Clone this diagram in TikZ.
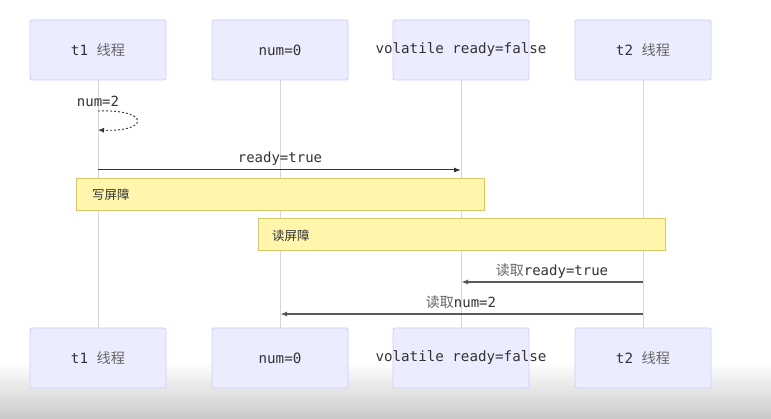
\documentclass[tikz,border=0pt]{standalone}
\usepackage{fontspec}
\setmainfont{DejaVu Sans Mono}
\newfontfamily\cjk{Noto Sans CJK SC}
\usetikzlibrary{arrows.meta}
\definecolor{actfill}{HTML}{ECECFF}
\definecolor{actdraw}{HTML}{CCCCFF}
\definecolor{notefill}{HTML}{FFF5AD}
\definecolor{notedraw}{HTML}{D4C76A}
\definecolor{lifeline}{HTML}{D6D6D6}
\definecolor{txt}{HTML}{333333}
\definecolor{cjkc}{HTML}{666666}
\newcommand{\cbox}[1]{\makebox[0pt][c]{#1}}
\tikzset{
  actor/.style={draw=actdraw, fill=actfill, rounded corners=2pt, minimum width=136pt, minimum height=60pt, inner sep=0pt, text=txt, font=\fontsize{14.2}{16}\selectfont, line width=0.8pt},
  life/.style={draw=lifeline, line width=1pt},
  msg/.style={draw=txt, line width=1pt, -{Latex[length=7pt,width=5pt]}},
  msgb/.style={draw=black!65, line width=1.6pt, -{Latex[length=7pt,width=5pt]}},
  lbl/.style={text=txt, font=\fontsize{14}{16}\selectfont, inner sep=1pt},
  note/.style={draw=notedraw, fill=notefill, line width=0.8pt, minimum height=32pt, inner sep=0pt},
  notetxt/.style={text=txt, font=\cjk\fontsize{12.5}{14}\selectfont, inner sep=0pt, anchor=west},
}
\begin{document}
\begin{tikzpicture}[x=1pt,y=-1pt]
\useasboundingbox (0,0) rectangle (771,419);
\fill[white] (0,0) rectangle (771,419);
\shade[top color=white, bottom color=black!21] (0,362) rectangle (771,419);
% lifelines
\foreach \n/\x in {a/98,b/280,c/461,d/643}{
  \coordinate (\n top) at (\x,80);
  \coordinate (\n bot) at (\x,328);
  \draw[life] (\n top) -- (\n bot);
}
% actors
\node[actor] (t1) at (98,50) {\cbox{t1 {\cjk\color{cjkc}线程}}};
\node[actor] (num) at (280,50) {\cbox{num=0}};
\node[actor] (vol) at (461,50) {\cbox{volatile ready=false}};
\node[actor] (t2) at (643,50) {\cbox{t2 {\cjk\color{cjkc}线程}}};
\node[actor] (t1b) at (98,358) {\cbox{t1 {\cjk\color{cjkc}线程}}};
\node[actor] (numb) at (280,358) {\cbox{num=0}};
\node[actor] (volb) at (461,358) {\cbox{volatile ready=false}};
\node[actor] (t2b) at (643,358) {\cbox{t2 {\cjk\color{cjkc}线程}}};
% self message
\node[lbl] (selfl) at (98,101) {num=2};
\coordinate (s1) at (98,111);
\coordinate (s2) at (98,130);
\draw[draw=txt, line width=0.9pt, dash pattern=on 2pt off 2pt, -{Latex[length=6pt,width=5pt]}]
  (s1) .. controls (150,109) and (150,132) .. (s2);
% ready=true
\coordinate (m1s) at (98,170);
\coordinate (m1e) at (461,170);
\draw[msg] (m1s) -- (m1e);
\node[lbl] (m1l) at (280,159) {ready=true};
% notes
\node[note, minimum width=408pt] (wb) at (280,194) {};
\node[notetxt] (wbt) at (92,195) {写屏障};
\node[note, minimum width=407pt] (rb) at (461.5,234) {};
\node[notetxt] (rbt) at (272,236) {读屏障};
% reads
\coordinate (m2s) at (643,282);
\coordinate (m2e) at (461,282);
\draw[msgb] (m2s) -- (m2e);
\node[lbl] (m2l) at (552,271) {{\cjk\color{cjkc}读取}ready=true};
\coordinate (m3s) at (643,314);
\coordinate (m3e) at (280,314);
\draw[msgb] (m3s) -- (m3e);
\node[lbl] (m3l) at (461,302) {{\cjk\color{cjkc}读取}num=2};
\end{tikzpicture}
\end{document}
